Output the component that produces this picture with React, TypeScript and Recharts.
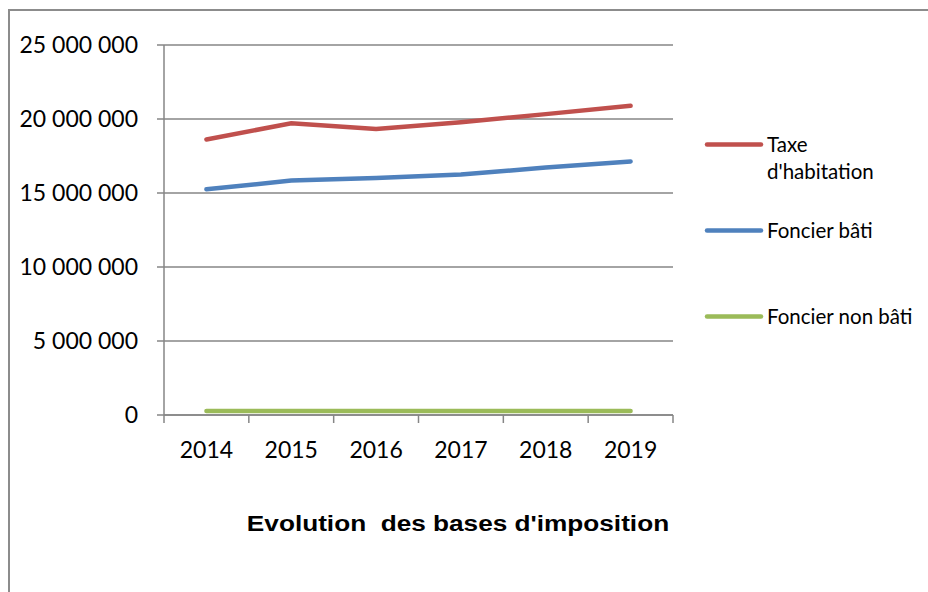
import React from 'react';
import { LineChart, Line, XAxis, YAxis, CartesianGrid, Legend } from 'recharts';

const years = ['2014', '2015', '2016', '2017', '2018', '2019'];
const taxeHabitation = [18620000, 19710000, 19320000, 19780000, 20330000, 20890000];
const foncierBati = [15250000, 15840000, 16020000, 16250000, 16720000, 17130000];
const foncierNonBati = [270000, 270000, 270000, 270000, 270000, 270000];
const yTicks = [0, 5000000, 10000000, 15000000, 20000000, 25000000];
const seriesOrder = ["Taxe d'habitation", 'Foncier bâti', 'Foncier non bâti'];

const data = years.map((year, i) => ({
  year,
  "Taxe d'habitation": taxeHabitation[i],
  'Foncier bâti': foncierBati[i],
  'Foncier non bâti': foncierNonBati[i],
}));

const GRID = '#868686';
const AXIS_FONT = 'Lato, "Open Sans", sans-serif';

// 25000000 -> "25 000 000"
const formatNumber = (v: number) => String(v).replace(/\B(?=(\d{3})+(?!\d))/g, ' ');

function YearTick(props: any) {
  const { x, y, payload, index } = props;
  const half = payload?.offset ?? 42.5;
  return (
    <g>
      <line x1={x - half} x2={x - half} y1={y} y2={y + 8} stroke={GRID} strokeWidth={1.5} />
      {index === years.length - 1 && (
        <line x1={x + half} x2={x + half} y1={y} y2={y + 8} stroke={GRID} strokeWidth={1.5} />
      )}
      <text x={x} y={y + 43} textAnchor="middle" fontFamily={AXIS_FONT} fontSize={23} fill="#000">
        {payload.value}
      </text>
    </g>
  );
}

function LegendContent(props: any) {
  const items = [...(props.payload ?? [])].sort(
    (a: any, b: any) => seriesOrder.indexOf(a.value) - seriesOrder.indexOf(b.value),
  );
  return (
    <div style={{ fontFamily: AXIS_FONT, fontSize: 20.5, color: '#000' }}>
      {items.map((item: any) => (
        <div key={item.value} style={{ display: 'flex', alignItems: 'flex-start', height: 86 }}>
          <svg width={64} height={27} style={{ flex: 'none' }}>
            <line x1={4} x2={58} y1={13.5} y2={13.5} stroke={item.color} strokeWidth={4.5} strokeLinecap="round" />
          </svg>
          <div style={{ width: 148, lineHeight: '27px' }}>{item.value}</div>
        </div>
      ))}
    </div>
  );
}

export default function App() {
  return (
    <div
      style={{
        position: 'absolute',
        left: 0,
        top: 0,
        width: 928,
        height: 592,
        overflow: 'hidden',
        background: '#fff',
      }}
    >
      <div
        style={{
          position: 'absolute',
          left: 8,
          top: 9,
          width: 1200,
          height: 1200,
          border: '2px solid #8c8c8c',
        }}
      />
      <LineChart width={928} height={592} data={data} margin={{ top: 45, right: 255, bottom: 117, left: 14 }}>
        <CartesianGrid vertical={false} stroke={GRID} strokeWidth={1.5} />
        <XAxis
          dataKey="year"
          scale="band"
          height={60}
          stroke={GRID}
          strokeWidth={1.5}
          tickLine={false}
          tickSize={0}
          tickMargin={0}
          interval={0}
          tick={<YearTick />}
        />
        <YAxis
          width={150}
          domain={[0, 25000000]}
          ticks={yTicks}
          interval={0}
          stroke={GRID}
          strokeWidth={1.5}
          tickSize={7}
          tickMargin={19}
          tickFormatter={formatNumber}
          tick={{ fontFamily: AXIS_FONT, fontSize: 23, fill: '#000' }}
        />
        <Legend
          layout="vertical"
          align="center"
          verticalAlign="middle"
          content={<LegendContent />}
          wrapperStyle={{ left: 703, top: 131, width: 225 }}
        />
        <Line dataKey="Taxe d'habitation" stroke="#C0504D" strokeWidth={4.5} strokeLinecap="round" dot={false} isAnimationActive={false} />
        <Line dataKey="Foncier bâti" stroke="#4F81BD" strokeWidth={4.5} strokeLinecap="round" dot={false} isAnimationActive={false} />
        <Line dataKey="Foncier non bâti" stroke="#9BBB59" strokeWidth={4.5} strokeLinecap="round" dot={false} isAnimationActive={false} />
      </LineChart>
      <div
        style={{
          position: 'absolute',
          left: 0,
          top: 513,
          width: 916,
          textAlign: 'center',
          fontFamily: '"Liberation Sans", Arial, sans-serif',
          fontWeight: 'bold',
          fontSize: 22,
          lineHeight: 1,
          whiteSpace: 'pre',
          transform: 'scaleX(1.19)',
          transformOrigin: '458px 50%',
        }}
      >
        Evolution  des bases d'imposition
      </div>
    </div>
  );
}
